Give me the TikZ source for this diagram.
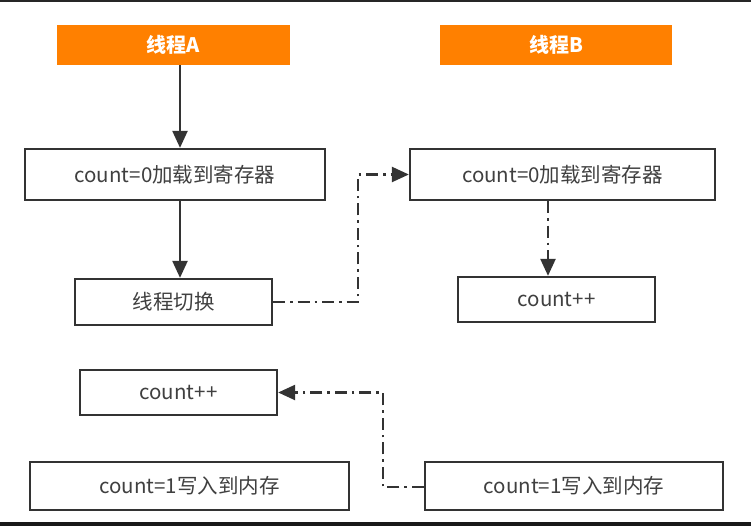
\documentclass[tikz,border=0pt]{standalone}
\usepackage{fontspec}
\setmainfont{Noto Sans CJK SC}
\usetikzlibrary{arrows.meta}
\definecolor{orangebox}{HTML}{FF8000}
\definecolor{linegray}{HTML}{333333}
\definecolor{textgray}{HTML}{404040}
\begin{document}
\begin{tikzpicture}[x=1pt,y=-1pt,
  head/.style={fill=orangebox,draw=none,text=white,font=\fontsize{20}{22}\selectfont\bfseries,inner sep=0pt},
  stepbox/.style={draw=linegray,line width=2.3pt,fill=white,text=textgray,font=\fontsize{20.5}{23}\selectfont,inner sep=0pt},
  solidarrow/.style={draw=linegray,line width=2.3pt,-{Triangle[length=17pt,width=15pt]}},
  dasharrow/.style={draw=linegray,line width=2.3pt,dash pattern=on 12pt off 5pt on 2.5pt off 5pt,-{Triangle[length=17pt,width=15pt]}}
]
\useasboundingbox (0,0) rectangle (751,526);
\fill[white] (0,0) rectangle (751,526);
\fill[black!85] (0,0) rectangle (751,2.5);
\fill[black!90] (0,521.5) rectangle (751,526);

\node[head,minimum width=233pt,minimum height=40pt] (ta) at (173.5,45) {线程A};
\node[head,minimum width=232pt,minimum height=40pt] (tb) at (556,45) {线程B};

\node[stepbox,minimum width=300pt,minimum height=51pt] (a1) at (175,174.5) {count=0加载到寄存器};
\node[stepbox,minimum width=197pt,minimum height=46pt] (a2) at (173.5,302) {线程切换};
\node[stepbox,minimum width=197pt,minimum height=45pt] (a3) at (178.5,392.5) {count++};
\node[stepbox,minimum width=319pt,minimum height=48pt] (a4) at (189.5,486) {count=1写入到内存};

\node[stepbox,minimum width=305pt,minimum height=51pt] (b1) at (562.5,174.5) {count=0加载到寄存器};
\node[stepbox,minimum width=197pt,minimum height=45pt] (b2) at (556.5,299.5) {count++};
\node[stepbox,minimum width=298pt,minimum height=48pt] (b3) at (574,486) {count=1写入到内存};

\coordinate (c1) at (358,302);
\coordinate (c2) at (358,174.5);
\coordinate (c3) at (383,487);
\coordinate (c4) at (383,392.5);

\draw[solidarrow] (ta.south -| 180,0) -- (a1.north -| 180,0);
\draw[solidarrow] (a1.south -| 180,0) -- (a2.north -| 180,0);
\draw[dasharrow] (a2.east) -- (c1) -- (c2) -- (b1.west);
\draw[dasharrow] (b1.south -| 548,0) -- (b2.north -| 548,0);
\draw[dasharrow] (b3.west |- c3) -- (c3) -- (c4) -- (a3.east);
\end{tikzpicture}
\end{document}
